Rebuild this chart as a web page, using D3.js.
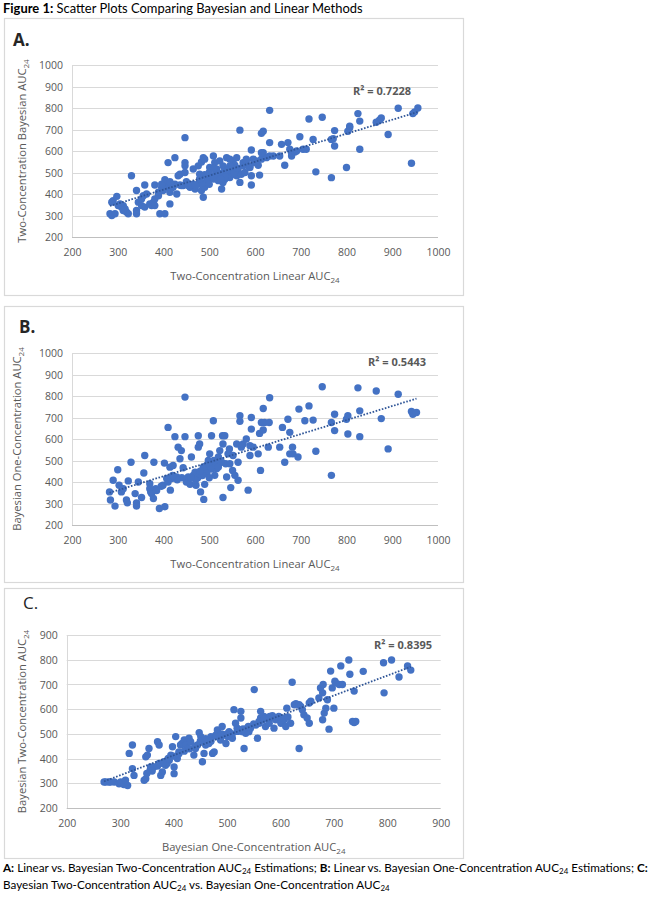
<!DOCTYPE html>
<html><head><meta charset="utf-8">
<script src="https://cdn.jsdelivr.net/npm/d3@7"></script>
<style>body{margin:0;background:#fff}svg{display:block}</style>
</head><body><svg id="c" width="650" height="899"></svg>
<script>
// ---------- DATA ----------
const pointsA = [
[283,308],[287,300],[294,308],[290,369],[298,389],[305,354],[312,346],[308,339],[316,331],[319,316],[323,308],[330,485],
[341,416],[341,323],[341,308],[345,362],[352,377],[356,392],[359,442],[352,346],[359,339],[370,354],[374,346],[378,362],
[381,442],[389,392],[392,308],[403,308],[399,416],[407,431],[410,442],[403,466],[414,416],[414,354],[421,431],[429,400],
[432,485],[436,492],[447,500],[443,439],[454,439],[458,431],[465,446],[469,423],[476,446],[479,469],[483,416],[487,385],
[490,485],[490,431],[494,454],[501,469],[509,477],[516,485],[520,462],[523,492],[527,423],[530,454],[534,469],[538,500],
[541,516],[545,477],[552,492],[560,485],[563,516],[567,454],[570,492],[574,531],[578,500],[581,562],[589,531],[592,442],
[592,485],[596,562],[600,546],[603,554],[607,534],[610,488],[614,562],[618,592],[625,569],[632,577],[410,546],[425,569],
[447,662],[447,546],[447,531],[465,516],[476,531],[479,492],[483,549],[487,569],[490,562],[501,523],[509,577],[512,546],
[516,516],[523,554],[530,531],[538,569],[545,562],[552,554],[556,534],[560,569],[567,697],[574,546],[581,554],[585,531],
[589,523],[592,605],[614,592],[614,682],[618,692],[632,639],[632,789],[640,577],[654,577],[658,631],[665,534],[672,639],
[676,608],[680,577],[680,589],[687,595],[691,600],[698,666],[705,608],[712,608],[718,749],[727,654],[733,503],[747,757],
[767,654],[767,476],[771,657],[774,695],[774,623],[800,523],[803,692],[807,708],[807,715],[825,774],[829,739],[829,608],
[865,734],[872,743],[876,754],[891,677],[913,799],[942,543],[945,774],[949,782],[956,800],
[363,400],[381,377],[381,346],[389,408],[396,431],[414,408],[425,446],[418,439],[436,442],[439,439],[414,457],[396,446],
[450,457],[461,442],[287,362],[301,346],[312,323],
[500,500],[505,480],[510,470],[495,460],[485,450],[515,505],[520,490],[530,500],[540,510],[535,480],[525,470],[550,520],
[555,500],[490,490],[480,470],[470,440],[510,520],[500,445],[560,520],[545,530]
];
const pointsB = [
[282,354],[284,316],[294,288],[290,408],[300,457],[303,385],[308,354],[312,369],[319,316],[321,303],[323,405],[329,492],
[338,346],[341,303],[341,288],[345,400],[352,328],[357,442],[359,523],[370,392],[370,369],[372,354],[374,346],[378,323],
[379,492],[383,369],[391,277],[399,385],[403,285],[402,488],[407,416],[410,654],[414,469],[415,362],[418,416],[421,477],
[425,611],[429,423],[432,562],[436,508],[439,546],[443,466],[447,795],[447,611],[450,400],[454,423],[458,389],[461,516],
[465,431],[469,446],[471,385],[476,562],[476,615],[479,577],[481,354],[483,439],[487,469],[488,319],[490,389],[493,446],
[494,477],[498,500],[501,531],[505,615],[509,685],[509,492],[512,431],[516,462],[520,516],[523,546],[527,492],[529,615],
[530,577],[530,328],[534,615],[536,485],[538,423],[541,531],[544,554],[545,485],[547,374],[551,454],[552,523],[556,431],
[560,577],[563,492],[563,408],[567,708],[567,682],[570,562],[574,577],[581,600],[585,362],[589,569],[589,523],[592,700],
[592,646],[596,562],[607,531],[610,626],[612,454],[614,677],[618,742],[618,642],[621,677],[629,562],[631,677],[632,792],
[654,562],[660,654],[665,492],[672,692],[676,631],[676,531],[682,562],[683,531],[694,516],[696,739],[709,685],[718,754],
[727,688],[733,543],[747,843],[767,431],[767,677],[774,639],[774,715],[800,692],[803,708],[803,623],[825,838],[829,731],
[829,611],[865,823],[876,695],[891,554],[913,808],[942,728],[945,715],[953,723],
[490,470],[500,480],[505,460],[495,440],[485,430],[510,500],[515,480],[520,470],[480,450],[475,420],[500,420],[525,500],
[470,410],[460,420],[440,420],[430,410],[420,430],[410,400],[395,380],[385,360]
];
const pointsC = [
[270,305],[273,305],[279,305],[282,305],[289,305],[298,298],[301,305],[307,295],[310,312],[314,291],[317,421],[323,455],
[323,359],[326,332],[345,312],[348,318],[348,407],[351,414],[354,441],[356,352],[357,366],[363,366],[370,468],[373,455],
[373,380],[376,332],[379,346],[382,387],[385,373],[388,380],[392,393],[395,414],[398,448],[401,339],[401,366],[404,489],
[407,400],[410,427],[413,455],[416,461],[420,475],[423,455],[426,441],[429,482],[432,468],[438,414],[441,441],[445,455],
[448,505],[451,489],[454,387],[457,421],[460,455],[463,475],[466,461],[470,489],[473,421],[476,427],[479,495],[482,516],
[485,489],[488,475],[491,530],[494,495],[498,461],[501,489],[504,509],[510,482],[513,598],[516,543],[519,523],[523,516],
[526,564],[526,591],[529,509],[532,441],[535,502],[538,523],[541,509],[544,523],[551,679],[554,536],[557,482],[560,543],
[563,591],[563,564],[566,557],[569,570],[572,530],[576,564],[579,543],[582,564],[585,573],[588,523],[591,557],[597,570],
[601,543],[604,564],[607,557],[610,530],[612,604],[614,568],[619,543],[622,709],[626,618],[629,622],[635,618],[635,441],
[638,611],[641,598],[644,577],[650,564],[654,543],[654,625],[657,632],[672,645],[675,686],[679,557],[679,666],[680,700],
[682,584],[685,604],[688,638],[691,519],[694,754],[697,686],[700,604],[702,713],[703,707],[710,700],[713,775],[716,700],
[728,799],[730,741],[735,550],[738,673],[738,546],[741,550],[755,753],[793,788],[794,666],[808,799],[822,730],[838,775],
[844,758],
[420,430],[430,440],[440,450],[450,470],[460,480],[470,470],[480,490],[490,500],[500,500],[510,500],[520,510],[530,520],
[540,530],[550,540],[560,550],[570,560],[580,570],[400,410],[410,420],[390,400],[380,380],[370,370],[360,350],[350,340]
];
const ticksAB = [200,300,400,500,600,700,800,900,1000];
const ticksC = [200,300,400,500,600,700,800,900];
const r2Labels = ["R² = 0.7228","R² = 0.5443","R² = 0.8395"];
const panelLetters = ["A.","B.","C."];
const xTitles = ["Two-Concentration Linear AUC","Two-Concentration Linear AUC","Bayesian One-Concentration AUC"];
const yTitles = ["Two-Concentration Bayesian AUC","Bayesian One-Concentration AUC","Bayesian Two-Concentration AUC"];

// ---------- LAYOUT ----------
const svg = d3.select("#c");
const FONT = "'Open Sans', 'Noto Sans', sans-serif";
const BLUE = "#4472C4";
const panels = [
  {pts: pointsA, xt: ticksAB, yt: ticksAB, box:[4,18,459,277], plot:[72,438,65,237], letter:[13,46,"bold"], r2:[382,95], lx:0},
  {pts: pointsB, xt: ticksAB, yt: ticksAB, box:[4,306,459,276], plot:[72,438,353,525], letter:[19,333,"bold"], r2:[397,366], lx:-5},
  {pts: pointsC, xt: ticksC, yt: ticksC, box:[4,588,459,270], plot:[66.7,440.7,635,808], letter:[23,609,"normal"], r2:[403,649], lx:0}
];

panels.forEach((p, i) => {
  const g = svg.append("g");
  g.append("rect").attr("x", p.box[0]+0.5).attr("y", p.box[1]+0.5).attr("width", p.box[2]).attr("height", p.box[3])
    .attr("fill", "#fff").attr("stroke", "#d9d9d9").attr("stroke-width", 1.2);
  g.append("text").attr("x", p.letter[0]).attr("y", p.letter[1]).text(panelLetters[i])
    .attr("font-family", "'Open Sans', sans-serif").attr("font-weight", p.letter[2]).attr("font-size", 17).attr("fill", "#262626");

  const [x0, x1, y0, y1] = p.plot;
  const xs = d3.scaleLinear().domain([p.xt[0], p.xt[p.xt.length-1]]).range([x0, x1]);
  const ys = d3.scaleLinear().domain([p.yt[0], p.yt[p.yt.length-1]]).range([y1, y0]);

  g.append("g").selectAll("line").data(p.yt.slice(1)).join("line")
    .attr("x1", x0).attr("x2", x1).attr("y1", d => Math.round(ys(d))+0.5).attr("y2", d => Math.round(ys(d))+0.5)
    .attr("stroke", "#d9d9d9").attr("stroke-width", 1);
  g.append("line").attr("x1", x0).attr("x2", x1).attr("y1", Math.round(y1)+0.5).attr("y2", Math.round(y1)+0.5)
    .attr("stroke", "#bfbfbf").attr("stroke-width", 1);
  g.append("line").attr("x1", Math.round(x0)+0.5).attr("x2", Math.round(x0)+0.5).attr("y1", y0).attr("y2", y1)
    .attr("stroke", "#d9d9d9").attr("stroke-width", 1);

  const xAxis = d3.axisBottom(xs).tickValues(p.xt).tickSize(0).tickPadding(0).tickFormat(d3.format("d"));
  const xa = g.append("g").attr("transform", `translate(0,${y1+19})`).call(xAxis);
  xa.select(".domain").remove();
  xa.selectAll("text").attr("font-family", FONT).attr("font-size", 10.5).attr("fill", "#595959").attr("dy", 0);
  const yAxis = d3.axisLeft(ys).tickValues(p.yt).tickSize(0).tickPadding(0).tickFormat(d3.format("d"));
  const ya = g.append("g").attr("transform", `translate(${x0-9},0)`).call(yAxis);
  ya.select(".domain").remove();
  ya.selectAll("text").attr("font-family", FONT).attr("font-size", 10.5).attr("fill", "#595959").attr("dy", "0.35em");

  const xt = g.append("text").attr("x", (x0+x1)/2).attr("y", y1+43).attr("text-anchor", "middle")
    .attr("font-family", FONT).attr("font-size", 11.2).attr("fill", "#595959");
  xt.append("tspan").text(xTitles[i]);
  xt.append("tspan").attr("font-size", 8).attr("dy", 3).text("24");
  const yt = g.append("text").attr("transform", `translate(${26+p.lx},${(y0+y1)/2}) rotate(-90)`).attr("text-anchor", "middle")
    .attr("font-family", FONT).attr("font-size", 11.2).attr("fill", "#595959");
  yt.append("tspan").text(yTitles[i]);
  yt.append("tspan").attr("font-size", 8).attr("dy", 3).text("24");

  const mx = d3.mean(p.pts, d => d[0]), my = d3.mean(p.pts, d => d[1]);
  const sxy = d3.sum(p.pts, d => (d[0]-mx)*(d[1]-my)), sxx = d3.sum(p.pts, d => (d[0]-mx)**2);
  const b = sxy/sxx, a = my - b*mx;
  const [ex0, ex1] = d3.extent(p.pts, d => d[0]);

  g.append("g").selectAll("circle").data(p.pts).join("circle")
    .attr("cx", d => xs(d[0])).attr("cy", d => ys(d[1])).attr("r", 3.7).attr("fill", BLUE);

  g.append("line").attr("x1", xs(ex0)).attr("y1", ys(a+b*ex0)).attr("x2", xs(ex1)).attr("y2", ys(a+b*ex1))
    .attr("stroke", "#2F5597").attr("stroke-width", 1.8).attr("stroke-dasharray", "1.6,1.6");

  g.append("text").attr("x", p.r2[0]).attr("y", p.r2[1]).attr("text-anchor", "middle").text(r2Labels[i])
    .attr("font-family", FONT).attr("font-weight", "bold").attr("font-size", 11).attr("fill", "#595959");
});

// ---------- TITLE / CAPTION ----------
const CAP = "Lato, 'Open Sans', sans-serif";
function addLine(y, parts, fs) {
  const t = svg.append("text").attr("x", 3).attr("y", y).attr("font-family", CAP).attr("font-size", fs).attr("fill", "#000");
  parts.forEach(([s, kind]) => {
    const ts = t.append("tspan").text(s);
    if (kind === "b") ts.attr("font-weight", "bold");
    if (kind === "s") ts.attr("font-size", fs*0.68).attr("dy", 2).attr("data-sub", 1);
    if (kind === "u") ts.attr("dy", -2);
  });
  return t;
}
function fitTo(t, width, base) {
  const fs = base * width / t.node().getComputedTextLength();
  t.attr("font-size", fs);
  t.selectAll("tspan[data-sub]").attr("font-size", fs*0.68);
  return fs;
}
const title = addLine(13, [["Figure 1:", "b"], [" Scatter Plots Comparing Bayesian and Linear Methods"]], 12.5);
fitTo(title, 360, 12.5);
const cap1 = addLine(872, [["A:", "b"], [" Linear vs. Bayesian Two-Concentration AUC"], ["24", "s"], [" Estimations; ", "u"],
  ["B:", "b"], [" Linear vs. Bayesian One-Concentration AUC"], ["24", "s"], [" Estimations; ", "u"], ["C:", "b"]], 12);
const capFs = fitTo(cap1, 645, 12);
addLine(889, [["Bayesian Two-Concentration AUC"], ["24", "s"], [" vs. Bayesian One-Concentration AUC", "u"], ["24", "s"]], capFs);
</script></body></html>
